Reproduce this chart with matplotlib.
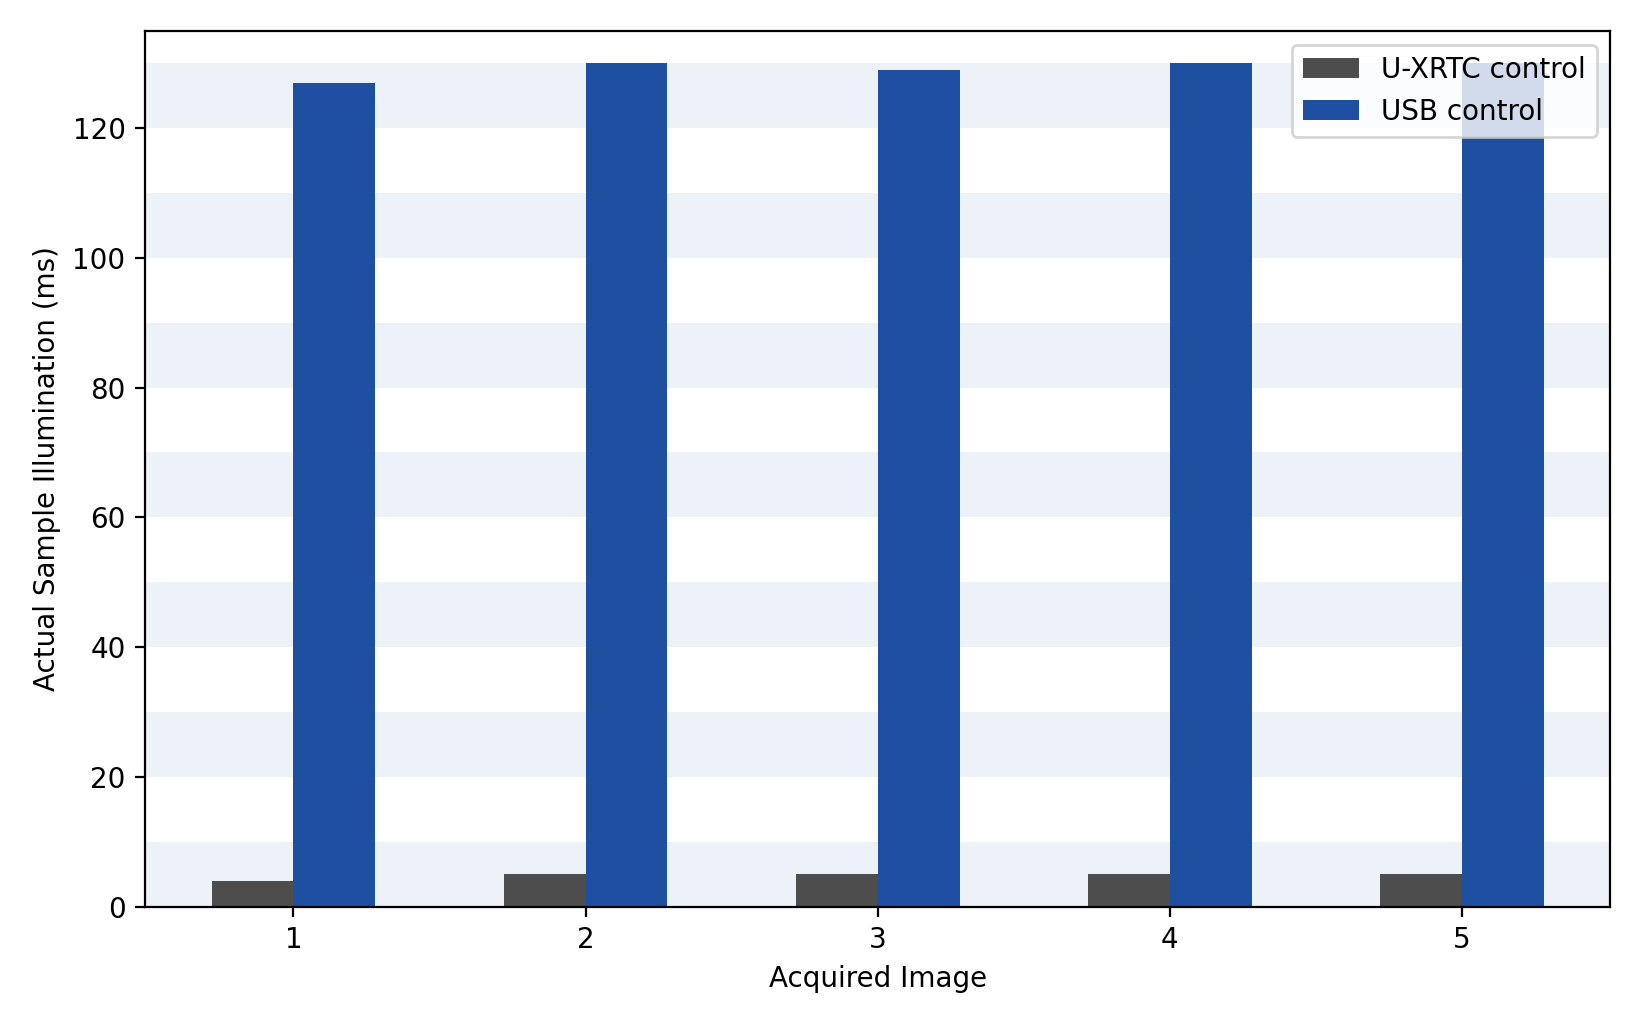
import numpy as np
import matplotlib
matplotlib.use("Agg")
import matplotlib.pyplot as plt

images = [1, 2, 3, 4, 5]
uxrtc_ms = [4, 5, 5, 5, 5]
usb_ms = [127, 130, 129, 130, 130]

fig = plt.figure(figsize=(8.2, 5.125), dpi=200)
ax = fig.add_subplot()
fig.subplots_adjust(left=0.0884, right=0.982, top=0.970, bottom=0.1155)

# alternating light bands every 10 ms
for y0 in range(0, 130, 20):
    ax.axhspan(y0, y0 + 10, color="#ecf2f8", lw=0, zorder=0)

x = np.array(images)
w = 0.28
ax.bar(x - w / 2, uxrtc_ms, w, color="#4d4d4d", label="U-XRTC control", zorder=2)
ax.bar(x + w / 2, usb_ms, w, color="#1f4fa0", label="USB control", zorder=2)

ax.set_xticks(images)
ax.set_ylim(0, 135)
ax.set_xlabel("Acquired Image")
ax.set_ylabel("Actual Sample Illumination (ms)")
ax.legend(loc="upper right")

plt.savefig("out.png", dpi=200)
